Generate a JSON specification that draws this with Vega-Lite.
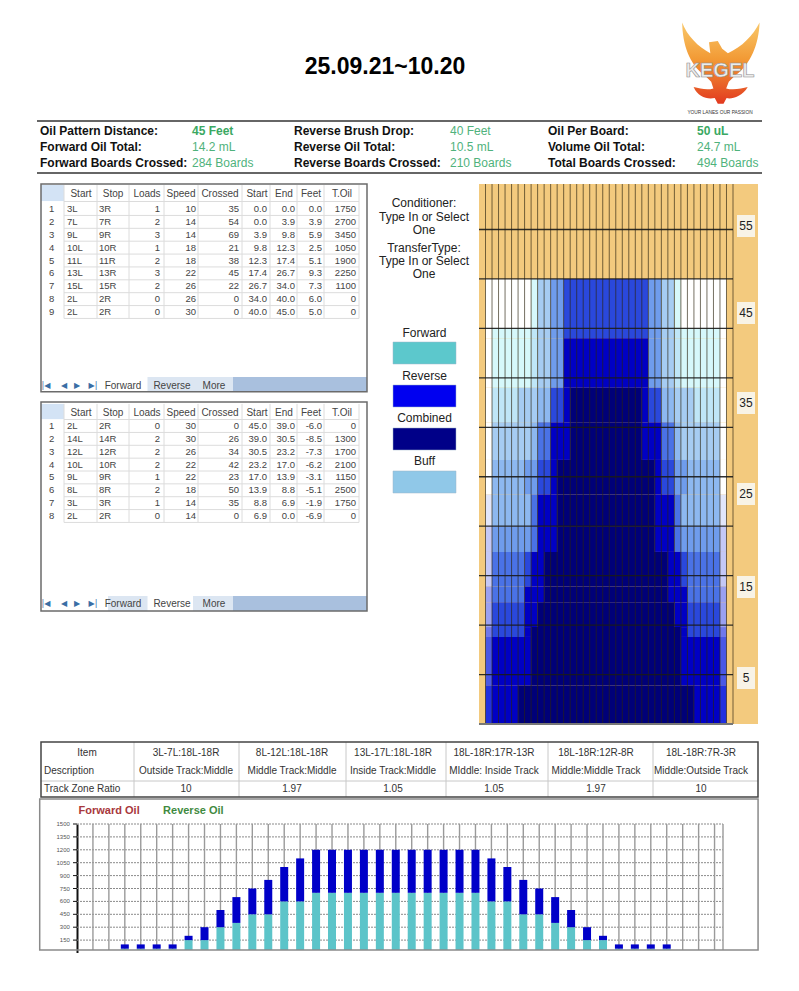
{
"$schema":"https://vega.github.io/schema/vega-lite/v6.json",
"background":"white",
"padding":{"left":36,"top":0,"right":0,"bottom":0},
"config":{"view":{"stroke":null},"font":"Liberation Sans"},
"datasets":{
"summary":[
{"row":1,"col":1,"text":"Oil Pattern Distance:","kind":"label"},{"row":1,"col":2,"text":"45 Feet","kind":"strong"},{"row":1,"col":3,"text":"Reverse Brush Drop:","kind":"label"},{"row":1,"col":4,"text":"40 Feet","kind":"value"},{"row":1,"col":5,"text":"Oil Per Board:","kind":"label"},{"row":1,"col":6,"text":"50 uL","kind":"strong"},
{"row":2,"col":1,"text":"Forward Oil Total:","kind":"label"},{"row":2,"col":2,"text":"14.2 mL","kind":"value"},{"row":2,"col":3,"text":"Reverse Oil Total:","kind":"label"},{"row":2,"col":4,"text":"10.5 mL","kind":"value"},{"row":2,"col":5,"text":"Volume Oil Total:","kind":"label"},{"row":2,"col":6,"text":"24.7 mL","kind":"value"},
{"row":3,"col":1,"text":"Forward Boards Crossed:","kind":"label"},{"row":3,"col":2,"text":"284 Boards","kind":"value"},{"row":3,"col":3,"text":"Reverse Boards Crossed:","kind":"label"},{"row":3,"col":4,"text":"210 Boards","kind":"value"},{"row":3,"col":5,"text":"Total Boards Crossed:","kind":"label"},{"row":3,"col":6,"text":"494 Boards","kind":"value"}],
"headers":[{"col":1,"text":"Start"},{"col":2,"text":"Stop"},{"col":3,"text":"Loads"},{"col":4,"text":"Speed"},{"col":5,"text":"Crossed"},{"col":6,"text":"Start"},{"col":7,"text":"End"},{"col":8,"text":"Feet"},{"col":9,"text":"T.Oil"}],
"colEdges":[{"edge":1},{"edge":2},{"edge":3},{"edge":4},{"edge":5},{"edge":6},{"edge":7},{"edge":8},{"edge":9},{"edge":10}],
"rowEdgesF":[{"edge":0.5},{"edge":1.5},{"edge":2.5},{"edge":3.5},{"edge":4.5},{"edge":5.5},{"edge":6.5},{"edge":7.5},{"edge":8.5},{"edge":9.5}],
"rowEdgesR":[{"edge":0.5},{"edge":1.5},{"edge":2.5},{"edge":3.5},{"edge":4.5},{"edge":5.5},{"edge":6.5},{"edge":7.5},{"edge":8.5}],
"tabs":[{"idx":0,"tab":"|◀"},{"idx":1,"tab":"◀"},{"idx":2,"tab":"▶"},{"idx":3,"tab":"▶|"}],
"tabNames":[{"idx":4,"tab":"Forward"},{"idx":5,"tab":"Reverse"},{"idx":6,"tab":"More"}],
"forward":[
{"row":1,"col":0,"text":"1"},{"row":1,"col":1,"text":"3L"},{"row":1,"col":2,"text":"3R"},{"row":1,"col":3,"text":"1"},{"row":1,"col":4,"text":"10"},{"row":1,"col":5,"text":"35"},{"row":1,"col":6,"text":"0.0"},{"row":1,"col":7,"text":"0.0"},{"row":1,"col":8,"text":"0.0"},{"row":1,"col":9,"text":"1750"},
{"row":2,"col":0,"text":"2"},{"row":2,"col":1,"text":"7L"},{"row":2,"col":2,"text":"7R"},{"row":2,"col":3,"text":"2"},{"row":2,"col":4,"text":"14"},{"row":2,"col":5,"text":"54"},{"row":2,"col":6,"text":"0.0"},{"row":2,"col":7,"text":"3.9"},{"row":2,"col":8,"text":"3.9"},{"row":2,"col":9,"text":"2700"},
{"row":3,"col":0,"text":"3"},{"row":3,"col":1,"text":"9L"},{"row":3,"col":2,"text":"9R"},{"row":3,"col":3,"text":"3"},{"row":3,"col":4,"text":"14"},{"row":3,"col":5,"text":"69"},{"row":3,"col":6,"text":"3.9"},{"row":3,"col":7,"text":"9.8"},{"row":3,"col":8,"text":"5.9"},{"row":3,"col":9,"text":"3450"},
{"row":4,"col":0,"text":"4"},{"row":4,"col":1,"text":"10L"},{"row":4,"col":2,"text":"10R"},{"row":4,"col":3,"text":"1"},{"row":4,"col":4,"text":"18"},{"row":4,"col":5,"text":"21"},{"row":4,"col":6,"text":"9.8"},{"row":4,"col":7,"text":"12.3"},{"row":4,"col":8,"text":"2.5"},{"row":4,"col":9,"text":"1050"},
{"row":5,"col":0,"text":"5"},{"row":5,"col":1,"text":"11L"},{"row":5,"col":2,"text":"11R"},{"row":5,"col":3,"text":"2"},{"row":5,"col":4,"text":"18"},{"row":5,"col":5,"text":"38"},{"row":5,"col":6,"text":"12.3"},{"row":5,"col":7,"text":"17.4"},{"row":5,"col":8,"text":"5.1"},{"row":5,"col":9,"text":"1900"},
{"row":6,"col":0,"text":"6"},{"row":6,"col":1,"text":"13L"},{"row":6,"col":2,"text":"13R"},{"row":6,"col":3,"text":"3"},{"row":6,"col":4,"text":"22"},{"row":6,"col":5,"text":"45"},{"row":6,"col":6,"text":"17.4"},{"row":6,"col":7,"text":"26.7"},{"row":6,"col":8,"text":"9.3"},{"row":6,"col":9,"text":"2250"},
{"row":7,"col":0,"text":"7"},{"row":7,"col":1,"text":"15L"},{"row":7,"col":2,"text":"15R"},{"row":7,"col":3,"text":"2"},{"row":7,"col":4,"text":"26"},{"row":7,"col":5,"text":"22"},{"row":7,"col":6,"text":"26.7"},{"row":7,"col":7,"text":"34.0"},{"row":7,"col":8,"text":"7.3"},{"row":7,"col":9,"text":"1100"},
{"row":8,"col":0,"text":"8"},{"row":8,"col":1,"text":"2L"},{"row":8,"col":2,"text":"2R"},{"row":8,"col":3,"text":"0"},{"row":8,"col":4,"text":"26"},{"row":8,"col":5,"text":"0"},{"row":8,"col":6,"text":"34.0"},{"row":8,"col":7,"text":"40.0"},{"row":8,"col":8,"text":"6.0"},{"row":8,"col":9,"text":"0"},
{"row":9,"col":0,"text":"9"},{"row":9,"col":1,"text":"2L"},{"row":9,"col":2,"text":"2R"},{"row":9,"col":3,"text":"0"},{"row":9,"col":4,"text":"30"},{"row":9,"col":5,"text":"0"},{"row":9,"col":6,"text":"40.0"},{"row":9,"col":7,"text":"45.0"},{"row":9,"col":8,"text":"5.0"},{"row":9,"col":9,"text":"0"}],
"reverse":[
{"row":1,"col":0,"text":"1"},{"row":1,"col":1,"text":"2L"},{"row":1,"col":2,"text":"2R"},{"row":1,"col":3,"text":"0"},{"row":1,"col":4,"text":"30"},{"row":1,"col":5,"text":"0"},{"row":1,"col":6,"text":"45.0"},{"row":1,"col":7,"text":"39.0"},{"row":1,"col":8,"text":"-6.0"},{"row":1,"col":9,"text":"0"},
{"row":2,"col":0,"text":"2"},{"row":2,"col":1,"text":"14L"},{"row":2,"col":2,"text":"14R"},{"row":2,"col":3,"text":"2"},{"row":2,"col":4,"text":"30"},{"row":2,"col":5,"text":"26"},{"row":2,"col":6,"text":"39.0"},{"row":2,"col":7,"text":"30.5"},{"row":2,"col":8,"text":"-8.5"},{"row":2,"col":9,"text":"1300"},
{"row":3,"col":0,"text":"3"},{"row":3,"col":1,"text":"12L"},{"row":3,"col":2,"text":"12R"},{"row":3,"col":3,"text":"2"},{"row":3,"col":4,"text":"26"},{"row":3,"col":5,"text":"34"},{"row":3,"col":6,"text":"30.5"},{"row":3,"col":7,"text":"23.2"},{"row":3,"col":8,"text":"-7.3"},{"row":3,"col":9,"text":"1700"},
{"row":4,"col":0,"text":"4"},{"row":4,"col":1,"text":"10L"},{"row":4,"col":2,"text":"10R"},{"row":4,"col":3,"text":"2"},{"row":4,"col":4,"text":"22"},{"row":4,"col":5,"text":"42"},{"row":4,"col":6,"text":"23.2"},{"row":4,"col":7,"text":"17.0"},{"row":4,"col":8,"text":"-6.2"},{"row":4,"col":9,"text":"2100"},
{"row":5,"col":0,"text":"5"},{"row":5,"col":1,"text":"9L"},{"row":5,"col":2,"text":"9R"},{"row":5,"col":3,"text":"1"},{"row":5,"col":4,"text":"22"},{"row":5,"col":5,"text":"23"},{"row":5,"col":6,"text":"17.0"},{"row":5,"col":7,"text":"13.9"},{"row":5,"col":8,"text":"-3.1"},{"row":5,"col":9,"text":"1150"},
{"row":6,"col":0,"text":"6"},{"row":6,"col":1,"text":"8L"},{"row":6,"col":2,"text":"8R"},{"row":6,"col":3,"text":"2"},{"row":6,"col":4,"text":"18"},{"row":6,"col":5,"text":"50"},{"row":6,"col":6,"text":"13.9"},{"row":6,"col":7,"text":"8.8"},{"row":6,"col":8,"text":"-5.1"},{"row":6,"col":9,"text":"2500"},
{"row":7,"col":0,"text":"7"},{"row":7,"col":1,"text":"3L"},{"row":7,"col":2,"text":"3R"},{"row":7,"col":3,"text":"1"},{"row":7,"col":4,"text":"14"},{"row":7,"col":5,"text":"35"},{"row":7,"col":6,"text":"8.8"},{"row":7,"col":7,"text":"6.9"},{"row":7,"col":8,"text":"-1.9"},{"row":7,"col":9,"text":"1750"},
{"row":8,"col":0,"text":"8"},{"row":8,"col":1,"text":"2L"},{"row":8,"col":2,"text":"2R"},{"row":8,"col":3,"text":"0"},{"row":8,"col":4,"text":"14"},{"row":8,"col":5,"text":"0"},{"row":8,"col":6,"text":"6.9"},{"row":8,"col":7,"text":"0.0"},{"row":8,"col":8,"text":"-6.9"},{"row":8,"col":9,"text":"0"}],
"notes":[{"line":1,"text":"Conditioner:"},{"line":2,"text":"Type In or Select"},{"line":3,"text":"One"},{"line":4,"text":"TransferType:"},{"line":5,"text":"Type In or Select"},{"line":6,"text":"One"}],
"swatches":[{"name":"Forward"},{"name":"Reverse"},{"name":"Combined"},{"name":"Buff"}],
"heat":[
{"from":1,"to":8,"top":45,"bottom":40,"shade":"w"},{"from":8,"to":9,"top":45,"bottom":40,"shade":"p"},{"from":9,"to":11,"top":45,"bottom":40,"shade":"a"},{"from":11,"to":13,"top":45,"bottom":40,"shade":"e"},{"from":13,"to":26,"top":45,"bottom":40,"shade":"m"},{"from":26,"to":28,"top":45,"bottom":40,"shade":"e"},{"from":28,"to":30,"top":45,"bottom":40,"shade":"a"},{"from":30,"to":31,"top":45,"bottom":40,"shade":"p"},{"from":31,"to":38,"top":45,"bottom":40,"shade":"w"},
{"from":1,"to":2,"top":40,"bottom":39,"shade":"w"},{"from":2,"to":8,"top":40,"bottom":39,"shade":"p"},{"from":8,"to":9,"top":40,"bottom":39,"shade":"c"},{"from":9,"to":11,"top":40,"bottom":39,"shade":"a"},{"from":11,"to":13,"top":40,"bottom":39,"shade":"e"},{"from":13,"to":26,"top":40,"bottom":39,"shade":"m"},{"from":26,"to":28,"top":40,"bottom":39,"shade":"e"},{"from":28,"to":30,"top":40,"bottom":39,"shade":"a"},{"from":30,"to":31,"top":40,"bottom":39,"shade":"c"},{"from":31,"to":37,"top":40,"bottom":39,"shade":"p"},{"from":37,"to":38,"top":40,"bottom":39,"shade":"w"},
{"from":1,"to":2,"top":39,"bottom":34,"shade":"w"},{"from":2,"to":8,"top":39,"bottom":34,"shade":"p"},{"from":8,"to":9,"top":39,"bottom":34,"shade":"c"},{"from":9,"to":11,"top":39,"bottom":34,"shade":"a"},{"from":11,"to":13,"top":39,"bottom":34,"shade":"e"},{"from":13,"to":26,"top":39,"bottom":34,"shade":"d"},{"from":26,"to":28,"top":39,"bottom":34,"shade":"e"},{"from":28,"to":30,"top":39,"bottom":34,"shade":"a"},{"from":30,"to":31,"top":39,"bottom":34,"shade":"c"},{"from":31,"to":37,"top":39,"bottom":34,"shade":"p"},{"from":37,"to":38,"top":39,"bottom":34,"shade":"w"},
{"from":1,"to":2,"top":34,"bottom":30.5,"shade":"w"},{"from":2,"to":6,"top":34,"bottom":30.5,"shade":"c"},{"from":6,"to":9,"top":34,"bottom":30.5,"shade":"a"},{"from":9,"to":11,"top":34,"bottom":30.5,"shade":"b"},{"from":11,"to":13,"top":34,"bottom":30.5,"shade":"m"},{"from":13,"to":14,"top":34,"bottom":30.5,"shade":"d"},{"from":14,"to":25,"top":34,"bottom":30.5,"shade":"n"},{"from":25,"to":26,"top":34,"bottom":30.5,"shade":"d"},{"from":26,"to":28,"top":34,"bottom":30.5,"shade":"m"},{"from":28,"to":30,"top":34,"bottom":30.5,"shade":"b"},{"from":30,"to":33,"top":34,"bottom":30.5,"shade":"a"},{"from":33,"to":37,"top":34,"bottom":30.5,"shade":"c"},{"from":37,"to":38,"top":34,"bottom":30.5,"shade":"w"},
{"from":1,"to":2,"top":30.5,"bottom":26.7,"shade":"w"},{"from":2,"to":8,"top":30.5,"bottom":26.7,"shade":"a"},{"from":8,"to":9,"top":30.5,"bottom":26.7,"shade":"b"},{"from":9,"to":11,"top":30.5,"bottom":26.7,"shade":"f"},{"from":11,"to":14,"top":30.5,"bottom":26.7,"shade":"d"},{"from":14,"to":25,"top":30.5,"bottom":26.7,"shade":"n"},{"from":25,"to":28,"top":30.5,"bottom":26.7,"shade":"d"},{"from":28,"to":30,"top":30.5,"bottom":26.7,"shade":"f"},{"from":30,"to":31,"top":30.5,"bottom":26.7,"shade":"b"},{"from":31,"to":37,"top":30.5,"bottom":26.7,"shade":"a"},{"from":37,"to":38,"top":30.5,"bottom":26.7,"shade":"w"},
{"from":1,"to":2,"top":26.7,"bottom":23.2,"shade":"w"},{"from":2,"to":7,"top":26.7,"bottom":23.2,"shade":"b"},{"from":7,"to":9,"top":26.7,"bottom":23.2,"shade":"e"},{"from":9,"to":11,"top":26.7,"bottom":23.2,"shade":"m"},{"from":11,"to":12,"top":26.7,"bottom":23.2,"shade":"d"},{"from":12,"to":27,"top":26.7,"bottom":23.2,"shade":"n"},{"from":27,"to":28,"top":26.7,"bottom":23.2,"shade":"d"},{"from":28,"to":30,"top":26.7,"bottom":23.2,"shade":"m"},{"from":30,"to":32,"top":26.7,"bottom":23.2,"shade":"e"},{"from":32,"to":37,"top":26.7,"bottom":23.2,"shade":"b"},{"from":37,"to":38,"top":26.7,"bottom":23.2,"shade":"w"},
{"from":1,"to":2,"top":23.2,"bottom":20,"shade":"x1"},{"from":2,"to":8,"top":23.2,"bottom":20,"shade":"b"},{"from":8,"to":9,"top":23.2,"bottom":20,"shade":"f"},{"from":9,"to":12,"top":23.2,"bottom":20,"shade":"d"},{"from":12,"to":27,"top":23.2,"bottom":20,"shade":"n"},{"from":27,"to":30,"top":23.2,"bottom":20,"shade":"d"},{"from":30,"to":31,"top":23.2,"bottom":20,"shade":"f"},{"from":31,"to":37,"top":23.2,"bottom":20,"shade":"b"},{"from":37,"to":38,"top":23.2,"bottom":20,"shade":"x1"},
{"from":1,"to":2,"top":20,"bottom":17.4,"shade":"x2"},{"from":2,"to":8,"top":20,"bottom":17.4,"shade":"e"},{"from":8,"to":9,"top":20,"bottom":17.4,"shade":"f"},{"from":9,"to":12,"top":20,"bottom":17.4,"shade":"d"},{"from":12,"to":27,"top":20,"bottom":17.4,"shade":"n"},{"from":27,"to":30,"top":20,"bottom":17.4,"shade":"d"},{"from":30,"to":31,"top":20,"bottom":17.4,"shade":"f"},{"from":31,"to":37,"top":20,"bottom":17.4,"shade":"e"},{"from":37,"to":38,"top":20,"bottom":17.4,"shade":"x2"},
{"from":1,"to":2,"top":17.4,"bottom":13.9,"shade":"x2"},{"from":2,"to":7,"top":17.4,"bottom":13.9,"shade":"f"},{"from":7,"to":8,"top":17.4,"bottom":13.9,"shade":"m"},{"from":8,"to":10,"top":17.4,"bottom":13.9,"shade":"d"},{"from":10,"to":29,"top":17.4,"bottom":13.9,"shade":"n"},{"from":29,"to":31,"top":17.4,"bottom":13.9,"shade":"d"},{"from":31,"to":32,"top":17.4,"bottom":13.9,"shade":"m"},{"from":32,"to":37,"top":17.4,"bottom":13.9,"shade":"f"},{"from":37,"to":38,"top":17.4,"bottom":13.9,"shade":"x2"},
{"from":1,"to":2,"top":13.9,"bottom":12.3,"shade":"x3"},{"from":2,"to":7,"top":13.9,"bottom":12.3,"shade":"f"},{"from":7,"to":10,"top":13.9,"bottom":12.3,"shade":"d"},{"from":10,"to":29,"top":13.9,"bottom":12.3,"shade":"n"},{"from":29,"to":32,"top":13.9,"bottom":12.3,"shade":"d"},{"from":32,"to":37,"top":13.9,"bottom":12.3,"shade":"f"},{"from":37,"to":38,"top":13.9,"bottom":12.3,"shade":"x3"},
{"from":1,"to":2,"top":12.3,"bottom":9.8,"shade":"x3"},{"from":2,"to":7,"top":12.3,"bottom":9.8,"shade":"m"},{"from":7,"to":9,"top":12.3,"bottom":9.8,"shade":"d"},{"from":9,"to":30,"top":12.3,"bottom":9.8,"shade":"n"},{"from":30,"to":32,"top":12.3,"bottom":9.8,"shade":"d"},{"from":32,"to":37,"top":12.3,"bottom":9.8,"shade":"m"},{"from":37,"to":38,"top":12.3,"bottom":9.8,"shade":"x3"},
{"from":1,"to":2,"top":9.8,"bottom":8.8,"shade":"x4"},{"from":2,"to":7,"top":9.8,"bottom":8.8,"shade":"m"},{"from":7,"to":8,"top":9.8,"bottom":8.8,"shade":"d"},{"from":8,"to":31,"top":9.8,"bottom":8.8,"shade":"n"},{"from":31,"to":32,"top":9.8,"bottom":8.8,"shade":"d"},{"from":32,"to":37,"top":9.8,"bottom":8.8,"shade":"m"},{"from":37,"to":38,"top":9.8,"bottom":8.8,"shade":"x4"},
{"from":1,"to":2,"top":8.8,"bottom":3.9,"shade":"x5"},{"from":2,"to":8,"top":8.8,"bottom":3.9,"shade":"d"},{"from":8,"to":31,"top":8.8,"bottom":3.9,"shade":"n"},{"from":31,"to":37,"top":8.8,"bottom":3.9,"shade":"d"},{"from":37,"to":38,"top":8.8,"bottom":3.9,"shade":"x5"},
{"from":1,"to":2,"top":3.9,"bottom":0,"shade":"x6"},{"from":2,"to":6,"top":3.9,"bottom":0,"shade":"d"},{"from":6,"to":33,"top":3.9,"bottom":0,"shade":"n"},{"from":33,"to":37,"top":3.9,"bottom":0,"shade":"d"},{"from":37,"to":38,"top":3.9,"bottom":0,"shade":"x6"}],
"boardLines":[{"board":1},{"board":2},{"board":3},{"board":4},{"board":5},{"board":6},{"board":7},{"board":8},{"board":9},{"board":10},{"board":11},{"board":12},{"board":13},{"board":14},{"board":15},{"board":16},{"board":17},{"board":18},{"board":19},{"board":20},{"board":21},{"board":22},{"board":23},{"board":24},{"board":25},{"board":26},{"board":27},{"board":28},{"board":29},{"board":30},{"board":31},{"board":32},{"board":33},{"board":34},{"board":35},{"board":36},{"board":37},{"board":38},{"board":39}],
"oilBoards":[{"board":1},{"board":2},{"board":3},{"board":4},{"board":5},{"board":6},{"board":7},{"board":8},{"board":9},{"board":10},{"board":11},{"board":12},{"board":13},{"board":14},{"board":15},{"board":16},{"board":17},{"board":18},{"board":19},{"board":20},{"board":21},{"board":22},{"board":23},{"board":24},{"board":25},{"board":26},{"board":27},{"board":28},{"board":29},{"board":30},{"board":31},{"board":32},{"board":33},{"board":34},{"board":35},{"board":36},{"board":37},{"board":38},{"board":39},{"board":40},{"board":40.53}],
"feetLines":[{"feet":5},{"feet":10},{"feet":15},{"feet":20},{"feet":25},{"feet":30},{"feet":35},{"feet":40},{"feet":45},{"feet":50}],
"feetLabels":[{"feet":55},{"feet":45},{"feet":35},{"feet":25},{"feet":15},{"feet":5}],
"track":[
{"row":1,"col":0,"text":"Item"},{"row":2,"col":-1,"text":"Description"},{"row":3,"col":-1,"text":"Track Zone Ratio"},
{"row":1,"col":1,"text":"3L-7L:18L-18R"},{"row":2,"col":1,"text":"Outside Track:Middle"},{"row":3,"col":1,"text":"10"},
{"row":1,"col":2,"text":"8L-12L:18L-18R"},{"row":2,"col":2,"text":"Middle Track:Middle"},{"row":3,"col":2,"text":"1.97"},
{"row":1,"col":3,"text":"13L-17L:18L-18R"},{"row":2,"col":3,"text":"Inside Track:Middle"},{"row":3,"col":3,"text":"1.05"},
{"row":1,"col":4,"text":"18L-18R:17R-13R"},{"row":2,"col":4,"text":"MIddle: Inside Track"},{"row":3,"col":4,"text":"1.05"},
{"row":1,"col":5,"text":"18L-18R:12R-8R"},{"row":2,"col":5,"text":"Middle:Middle Track"},{"row":3,"col":5,"text":"1.97"},
{"row":1,"col":6,"text":"18L-18R:7R-3R"},{"row":2,"col":6,"text":"Middle:Outside Track"},{"row":3,"col":6,"text":"10"}],
"trackEdges":[{"edge":0.5},{"edge":1.5},{"edge":2.5},{"edge":3.5},{"edge":4.5},{"edge":5.5}],
"oilLevels":[{"level":150},{"level":300},{"level":450},{"level":600},{"level":750},{"level":900},{"level":1050},{"level":1200},{"level":1350},{"level":1500}],
"oil":[
{"board":3,"Forward":50,"Reverse":50},{"board":4,"Forward":50,"Reverse":50},{"board":5,"Forward":50,"Reverse":50},{"board":6,"Forward":50,"Reverse":50},{"board":7,"Forward":150,"Reverse":50},{"board":8,"Forward":150,"Reverse":150},{"board":9,"Forward":300,"Reverse":200},{"board":10,"Forward":350,"Reverse":300},{"board":11,"Forward":450,"Reverse":300},{"board":12,"Forward":450,"Reverse":400},{"board":13,"Forward":600,"Reverse":400},{"board":14,"Forward":600,"Reverse":500},{"board":15,"Forward":700,"Reverse":500},{"board":16,"Forward":700,"Reverse":500},{"board":17,"Forward":700,"Reverse":500},{"board":18,"Forward":700,"Reverse":500},{"board":19,"Forward":700,"Reverse":500},{"board":20,"Forward":700,"Reverse":500},{"board":21,"Forward":700,"Reverse":500},{"board":22,"Forward":700,"Reverse":500},{"board":23,"Forward":700,"Reverse":500},{"board":24,"Forward":700,"Reverse":500},{"board":25,"Forward":700,"Reverse":500},{"board":26,"Forward":600,"Reverse":500},{"board":27,"Forward":600,"Reverse":400},{"board":28,"Forward":450,"Reverse":400},{"board":29,"Forward":450,"Reverse":300},{"board":30,"Forward":350,"Reverse":300},{"board":31,"Forward":300,"Reverse":200},{"board":32,"Forward":150,"Reverse":150},{"board":33,"Forward":150,"Reverse":50},{"board":34,"Forward":50,"Reverse":50},{"board":35,"Forward":50,"Reverse":50},{"board":36,"Forward":50,"Reverse":50},{"board":37,"Forward":50,"Reverse":50}]
},
"spacing":0,
"bounds":"flush",
"resolve":{"scale":{"color":"independent"}},
"vconcat":[
{"width":725,"height":184,"resolve":{"scale":{"x":"independent","y":"independent"}},
"layer":[
{"layer":[
{"data":{"values":[{"text":"25.09.21~10.20"}]},"mark":{"type":"text","fontSize":23,"fontWeight":"bold","color":"#000"},"encoding":{"x":{"datum":348,"type":"quantitative","scale":{"domain":[0,725],"range":[0,725]},"axis":null},"y":{"datum":67,"type":"quantitative","scale":{"domain":[184,0],"range":[184,0]},"axis":null},"text":{"field":"text"}}},
{"data":{"values":[{"piece":"logo"}]},"mark":{"type":"point","filled":true,"opacity":1,"size":7744,"shape":"M-.86 -.9C-.75 -.6 -.5 -.35 -.22 -.2L-.25 -.45L-.05 -.48L.05 -.3L.18 -.2C.5 -.35 .75 -.6 .9 -.9C.88 -.4 .7 .05 .35 .3L.2 .45L.14 .6C.3 .65 .5 .6 .63 .57C.5 .8 .25 .85 .15 .82L.08 .95L-.05 .95L-.12 .82C-.3 .85 -.5 .8 -.6 .57C-.45 .6 -.3 .65 -.15 .6L-.2 .45L-.35 .3C-.7 .05 -.85 -.4 -.86 -.9Z","fill":{"gradient":"linear","x1":0,"y1":0,"x2":0,"y2":1,"stops":[{"offset":0,"color":"#f9c86a"},{"offset":0.45,"color":"#f29a35"},{"offset":1,"color":"#e2391f"}]}},"encoding":{"x":{"datum":683,"type":"quantitative","scale":{"domain":[0,725],"range":[0,725]},"axis":null},"y":{"datum":62,"type":"quantitative","scale":{"domain":[184,0],"range":[184,0]},"axis":null}}},
{"data":{"values":[{"text":"KEGEL"}]},"mark":{"type":"text","fontSize":20,"fontWeight":"bold","fill":"#ececec","stroke":"#8f8f8f","strokeWidth":0.6},"encoding":{"x":{"datum":683,"type":"quantitative","scale":{"domain":[0,725],"range":[0,725]},"axis":null},"y":{"datum":71,"type":"quantitative","scale":{"domain":[184,0],"range":[184,0]},"axis":null},"text":{"field":"text"}}},
{"data":{"values":[{"text":"YOUR LANES   OUR PASSION"}]},"mark":{"type":"text","fontSize":4.8,"color":"#333"},"encoding":{"x":{"datum":683,"type":"quantitative","scale":{"domain":[0,725],"range":[0,725]},"axis":null},"y":{"datum":113,"type":"quantitative","scale":{"domain":[184,0],"range":[184,0]},"axis":null},"text":{"field":"text"}}},
{"data":{"values":[{"line":121},{"line":173}]},"mark":{"type":"rule","color":"#333","strokeWidth":1.5},"encoding":{"x":{"datum":0,"type":"quantitative","scale":{"domain":[0,725],"range":[0,725]},"axis":null},"x2":{"datum":725},"y":{"field":"line","type":"quantitative","scale":{"domain":[184,0],"range":[184,0]},"axis":null}}}
]},
{"layer":[
{"data":{"name":"summary"},"transform":[{"filter":"datum.kind=='label'"}],"mark":{"type":"text","align":"left","fontSize":12,"fontWeight":"bold","color":"#111"},"encoding":{"x":{"field":"col","type":"quantitative","scale":{"domain":[1,2,3,4,5,6],"range":[3,155,257,413,511,660]},"axis":null},"y":{"field":"row","type":"quantitative","scale":{"domain":[1,2,3],"range":[131,147,163]},"axis":null},"text":{"field":"text"}}},
{"data":{"name":"summary"},"transform":[{"filter":"datum.kind=='value'"}],"mark":{"type":"text","align":"left","fontSize":12,"color":"#4fb27c"},"encoding":{"x":{"field":"col","type":"quantitative","scale":{"domain":[1,2,3,4,5,6],"range":[3,155,257,413,511,660]},"axis":null},"y":{"field":"row","type":"quantitative","scale":{"domain":[1,2,3],"range":[131,147,163]},"axis":null},"text":{"field":"text"}}},
{"data":{"name":"summary"},"transform":[{"filter":"datum.kind=='strong'"}],"mark":{"type":"text","align":"left","fontSize":12,"fontWeight":"bold","color":"#3aa862"},"encoding":{"x":{"field":"col","type":"quantitative","scale":{"domain":[1,2,3,4,5,6],"range":[3,155,257,413,511,660]},"axis":null},"y":{"field":"row","type":"quantitative","scale":{"domain":[1,2,3],"range":[131,147,163]},"axis":null},"text":{"field":"text"}}}
]}
]},
{"width":725,"height":540,"resolve":{"scale":{"x":"independent","y":"independent","color":"independent"}},
"layer":[
{"layer":[
{"data":{"values":[{"cell":"corner"}]},"mark":{"type":"rect","fill":"#d3e3f5"},"encoding":{"x":{"datum":0,"type":"quantitative","scale":{"domain":[0,1,2,3,4,5,6,7,8,9,10,11],"range":[4,27,60,92,127,161,205,233,260,287,322,330]},"axis":null},"x2":{"datum":1},"y":{"datum":-0.6,"type":"quantitative","scale":{"domain":[0,1,9],"range":[10,25,128]},"axis":null},"y2":{"datum":0.47}}},
{"data":{"name":"colEdges"},"mark":{"type":"rule","color":"#dcdcdc"},"encoding":{"x":{"field":"edge","type":"quantitative","scale":{"domain":[0,1,2,3,4,5,6,7,8,9,10,11],"range":[4,27,60,92,127,161,205,233,260,287,322,330]},"axis":null},"y":{"datum":-0.6,"type":"quantitative","scale":{"domain":[0,1,9],"range":[10,25,128]},"axis":null},"y2":{"datum":9.5}}},
{"data":{"name":"rowEdgesF"},"mark":{"type":"rule","color":"#dcdcdc"},"encoding":{"y":{"field":"edge","type":"quantitative","scale":{"domain":[0,1,9],"range":[10,25,128]},"axis":null},"x":{"datum":1,"type":"quantitative","scale":{"domain":[0,1,2,3,4,5,6,7,8,9,10,11],"range":[4,27,60,92,127,161,205,233,260,287,322,330]},"axis":null},"x2":{"datum":10}}}
]},
{"layer":[
{"data":{"values":[{"part":"strip"}]},"mark":{"type":"rect","fill":"#a9c0de"},"encoding":{"x":{"datum":7,"type":"quantitative","scale":{"domain":[0,1,2,3,4,5,6,7,8],"range":[9,27,40,56,86,135,177,196,330]},"axis":null},"x2":{"datum":8},"y":{"datum":14.05,"type":"quantitative","scale":{"domain":[0,1,9],"range":[10,25,128]},"axis":null},"y2":{"datum":15.2}}},
{"data":{"values":[{"part":"reverse"}]},"mark":{"type":"rect","fill":"#dce6f2"},"encoding":{"x":{"datum":4.5,"type":"quantitative","scale":{"domain":[0,1,2,3,4,5,6,7,8],"range":[9,27,40,56,86,135,177,196,330]},"axis":null},"x2":{"datum":5.5},"y":{"datum":14.05,"type":"quantitative","scale":{"domain":[0,1,9],"range":[10,25,128]},"axis":null},"y2":{"datum":15.2}}},
{"data":{"values":[{"part":"more"}]},"mark":{"type":"rect","fill":"#dce6f2"},"encoding":{"x":{"datum":5.5,"type":"quantitative","scale":{"domain":[0,1,2,3,4,5,6,7,8],"range":[9,27,40,56,86,135,177,196,330]},"axis":null},"x2":{"datum":7},"y":{"datum":14.05,"type":"quantitative","scale":{"domain":[0,1,9],"range":[10,25,128]},"axis":null},"y2":{"datum":15.2}}},
{"data":{"name":"tabs"},"mark":{"type":"text","fontSize":8,"color":"#3a6ea5","font":"DejaVu Sans"},"encoding":{"x":{"field":"idx","type":"quantitative","scale":{"domain":[0,1,2,3,4,5,6,7,8],"range":[9,27,40,56,86,135,177,196,330]},"axis":null},"y":{"datum":14.75,"type":"quantitative","scale":{"domain":[0,1,9],"range":[10,25,128]},"axis":null},"text":{"field":"tab"}}},
{"data":{"name":"tabNames"},"mark":{"type":"text","fontSize":10,"color":"#444"},"encoding":{"x":{"field":"idx","type":"quantitative","scale":{"domain":[0,1,2,3,4,5,6,7,8],"range":[9,27,40,56,86,135,177,196,330]},"axis":null},"y":{"datum":14.75,"type":"quantitative","scale":{"domain":[0,1,9],"range":[10,25,128]},"axis":null},"text":{"field":"tab"}}}
]},
{"layer":[
{"data":{"name":"forward"},"transform":[{"filter":"datum.col<=2"}],"mark":{"type":"text","align":"left","fontSize":9.5,"color":"#444"},"encoding":{"x":{"field":"col","type":"quantitative","scale":{"domain":[0,1,2,3,4,5,6,7,8,9],"range":[12,30,62,123,159,202,230,258,285,319]},"axis":null},"y":{"field":"row","type":"quantitative","scale":{"domain":[0,1,9],"range":[10,25,128]},"axis":null},"text":{"field":"text"}}},
{"data":{"name":"forward"},"transform":[{"filter":"datum.col>=3"}],"mark":{"type":"text","align":"right","fontSize":9.5,"color":"#444"},"encoding":{"x":{"field":"col","type":"quantitative","scale":{"domain":[0,1,2,3,4,5,6,7,8,9],"range":[12,30,62,123,159,202,230,258,285,319]},"axis":null},"y":{"field":"row","type":"quantitative","scale":{"domain":[0,1,9],"range":[10,25,128]},"axis":null},"text":{"field":"text"}}}
]},
{"data":{"name":"headers"},"mark":{"type":"text","fontSize":10,"color":"#444"},"encoding":{"x":{"field":"col","type":"quantitative","scale":{"domain":[1,2,3,4,5,6,7,8,9],"range":[44,76,110,144,183,220,247,274,305]},"axis":null},"y":{"datum":0,"type":"quantitative","scale":{"domain":[0,1,9],"range":[10,25,128]},"axis":null},"text":{"field":"text"}}},
{"data":{"values":[{"part":"frame"}]},"mark":{"type":"rect","fillOpacity":0,"stroke":"#6b6b6b","strokeWidth":1.5},"encoding":{"x":{"datum":0,"type":"quantitative","scale":{"domain":[0,1],"range":[4,330]},"axis":null},"x2":{"datum":1},"y":{"datum":-0.667,"type":"quantitative","scale":{"domain":[0,1,9],"range":[10,25,128]},"axis":null},"y2":{"datum":15.2}}},

{"layer":[
{"data":{"values":[{"cell":"corner"}]},"mark":{"type":"rect","fill":"#d3e3f5"},"encoding":{"x":{"datum":0,"type":"quantitative","scale":{"domain":[0,1,2,3,4,5,6,7,8,9,10,11],"range":[4,27,60,92,127,161,205,233,260,287,322,330]},"axis":null},"x2":{"datum":1},"y":{"datum":-0.7,"type":"quantitative","scale":{"domain":[0,1,8],"range":[229,242,332]},"axis":null},"y2":{"datum":0.47}}},
{"data":{"name":"colEdges"},"mark":{"type":"rule","color":"#dcdcdc"},"encoding":{"x":{"field":"edge","type":"quantitative","scale":{"domain":[0,1,2,3,4,5,6,7,8,9,10,11],"range":[4,27,60,92,127,161,205,233,260,287,322,330]},"axis":null},"y":{"datum":-0.7,"type":"quantitative","scale":{"domain":[0,1,8],"range":[229,242,332]},"axis":null},"y2":{"datum":8.5}}},
{"data":{"name":"rowEdgesR"},"mark":{"type":"rule","color":"#dcdcdc"},"encoding":{"y":{"field":"edge","type":"quantitative","scale":{"domain":[0,1,8],"range":[229,242,332]},"axis":null},"x":{"datum":1,"type":"quantitative","scale":{"domain":[0,1,2,3,4,5,6,7,8,9,10,11],"range":[4,27,60,92,127,161,205,233,260,287,322,330]},"axis":null},"x2":{"datum":10}}}
]},
{"layer":[
{"data":{"values":[{"part":"strip"}]},"mark":{"type":"rect","fill":"#a9c0de"},"encoding":{"x":{"datum":7,"type":"quantitative","scale":{"domain":[0,1,2,3,4,5,6,7,8],"range":[9,27,40,56,86,135,177,196,330]},"axis":null},"x2":{"datum":8},"y":{"datum":14.22,"type":"quantitative","scale":{"domain":[0,1,8],"range":[229,242,332]},"axis":null},"y2":{"datum":15.39}}},
{"data":{"values":[{"part":"forward"}]},"mark":{"type":"rect","fill":"#dce6f2"},"encoding":{"x":{"datum":3.5,"type":"quantitative","scale":{"domain":[0,1,2,3,4,5,6,7,8],"range":[9,27,40,56,86,135,177,196,330]},"axis":null},"x2":{"datum":4.5},"y":{"datum":14.22,"type":"quantitative","scale":{"domain":[0,1,8],"range":[229,242,332]},"axis":null},"y2":{"datum":15.39}}},
{"data":{"values":[{"part":"more"}]},"mark":{"type":"rect","fill":"#dce6f2"},"encoding":{"x":{"datum":5.5,"type":"quantitative","scale":{"domain":[0,1,2,3,4,5,6,7,8],"range":[9,27,40,56,86,135,177,196,330]},"axis":null},"x2":{"datum":7},"y":{"datum":14.22,"type":"quantitative","scale":{"domain":[0,1,8],"range":[229,242,332]},"axis":null},"y2":{"datum":15.39}}},
{"data":{"name":"tabs"},"mark":{"type":"text","fontSize":8,"color":"#3a6ea5","font":"DejaVu Sans"},"encoding":{"x":{"field":"idx","type":"quantitative","scale":{"domain":[0,1,2,3,4,5,6,7,8],"range":[9,27,40,56,86,135,177,196,330]},"axis":null},"y":{"datum":14.84,"type":"quantitative","scale":{"domain":[0,1,8],"range":[229,242,332]},"axis":null},"text":{"field":"tab"}}},
{"data":{"name":"tabNames"},"mark":{"type":"text","fontSize":10,"color":"#444"},"encoding":{"x":{"field":"idx","type":"quantitative","scale":{"domain":[0,1,2,3,4,5,6,7,8],"range":[9,27,40,56,86,135,177,196,330]},"axis":null},"y":{"datum":14.84,"type":"quantitative","scale":{"domain":[0,1,8],"range":[229,242,332]},"axis":null},"text":{"field":"tab"}}}
]},
{"layer":[
{"data":{"name":"reverse"},"transform":[{"filter":"datum.col<=2"}],"mark":{"type":"text","align":"left","fontSize":9.5,"color":"#444"},"encoding":{"x":{"field":"col","type":"quantitative","scale":{"domain":[0,1,2,3,4,5,6,7,8,9],"range":[12,30,62,123,159,202,230,258,285,319]},"axis":null},"y":{"field":"row","type":"quantitative","scale":{"domain":[0,1,8],"range":[229,242,332]},"axis":null},"text":{"field":"text"}}},
{"data":{"name":"reverse"},"transform":[{"filter":"datum.col>=3"}],"mark":{"type":"text","align":"right","fontSize":9.5,"color":"#444"},"encoding":{"x":{"field":"col","type":"quantitative","scale":{"domain":[0,1,2,3,4,5,6,7,8,9],"range":[12,30,62,123,159,202,230,258,285,319]},"axis":null},"y":{"field":"row","type":"quantitative","scale":{"domain":[0,1,8],"range":[229,242,332]},"axis":null},"text":{"field":"text"}}}
]},
{"data":{"name":"headers"},"mark":{"type":"text","fontSize":10,"color":"#444"},"encoding":{"x":{"field":"col","type":"quantitative","scale":{"domain":[1,2,3,4,5,6,7,8,9],"range":[44,76,110,144,183,220,247,274,305]},"axis":null},"y":{"datum":0,"type":"quantitative","scale":{"domain":[0,1,8],"range":[229,242,332]},"axis":null},"text":{"field":"text"}}},
{"data":{"values":[{"part":"frame"}]},"mark":{"type":"rect","fillOpacity":0,"stroke":"#6b6b6b","strokeWidth":1.5},"encoding":{"x":{"datum":0,"type":"quantitative","scale":{"domain":[0,1],"range":[4,330]},"axis":null},"x2":{"datum":1},"y":{"datum":-0.846,"type":"quantitative","scale":{"domain":[0,1,8],"range":[229,242,332]},"axis":null},"y2":{"datum":15.39}}},

{"data":{"name":"notes"},"mark":{"type":"text","fontSize":12,"color":"#222"},"encoding":{"x":{"datum":57,"type":"quantitative","scale":{"domain":[0,112],"range":[330,442]},"axis":null},"y":{"field":"line","type":"quantitative","scale":{"domain":[1,2,3,4,5,6],"range":[19,33,46,64,77,90]},"axis":null},"text":{"field":"text"}}},
{"data":{"name":"swatches"},"layer":[
{"mark":{"type":"rect","stroke":"#9fb6c9","strokeWidth":0.5},"encoding":{"x":{"datum":0,"type":"quantitative","scale":{"domain":[0,1],"range":[356,419]},"axis":null},"x2":{"datum":1},"y":{"field":"name","type":"nominal","sort":null,"scale":{"type":"band","domain":["Forward","Reverse","Combined","Buff"],"range":[158,309],"paddingInner":0.488,"paddingOuter":0},"axis":null},"color":{"field":"name","type":"nominal","scale":{"domain":["Forward","Reverse","Combined","Buff"],"range":["#5cc8cc","#0000f0","#000088","#90c8e8"]},"legend":null}}},
{"mark":{"type":"text","fontSize":12,"color":"#222","dy":-20.5},"encoding":{"x":{"datum":0.5,"type":"quantitative","scale":{"domain":[0,1],"range":[356,419]},"axis":null},"y":{"field":"name","type":"nominal","sort":null,"scale":{"type":"band","domain":["Forward","Reverse","Combined","Buff"],"range":[158,309],"paddingInner":0.488,"paddingOuter":0},"axis":null},"text":{"field":"name"}}}
]},

{"layer":[
{"data":{"values":[{"part":"lane"}]},"mark":{"type":"rect","fill":"#f3ca7e"},"encoding":{"x":{"datum":0,"type":"quantitative","scale":{"domain":[0,39],"range":[442,696]},"axis":null},"x2":{"datum":42.84},"y":{"datum":0,"type":"quantitative","scale":{"domain":[0,54.6],"range":[540,0]},"axis":null},"y2":{"datum":54.6}}},
{"data":{"name":"heat"},"mark":{"type":"rect"},"encoding":{"x":{"field":"from","type":"quantitative","scale":{"domain":[0,39],"range":[442,696]},"axis":null},"x2":{"field":"to"},"y":{"field":"top","type":"quantitative","scale":{"domain":[0,54.6],"range":[540,0]},"axis":null},"y2":{"field":"bottom"},"color":{"field":"shade","type":"nominal","scale":{"domain":["w","p","c","a","b","e","f","m","d","n","x1","x2","x3","x4","x5","x6"],"range":["#ffffff","#d6f8fb","#bfe6f7","#a6ccf2","#8db8f0","#6f9cec","#4a72e6","#2a48dc","#0000c4","#000078","#e2e6fa","#c4c8f6","#9aa0f0","#7078ec","#4a58e6","#2030e0"]},"legend":null}}},
{"data":{"name":"boardLines"},"mark":{"type":"rule","color":"#2b2410","opacity":0.65,"strokeWidth":1},"encoding":{"x":{"field":"board","type":"quantitative","scale":{"domain":[0,39],"range":[442,696]},"axis":null},"y":{"datum":0,"type":"quantitative","scale":{"domain":[0,54.6],"range":[540,0]},"axis":null},"y2":{"datum":54.6}}},
{"data":{"name":"feetLines"},"mark":{"type":"rule","color":"#1a1a1a","opacity":0.9,"strokeWidth":1.3},"encoding":{"y":{"field":"feet","type":"quantitative","scale":{"domain":[0,54.6],"range":[540,0]},"axis":null},"x":{"datum":0,"type":"quantitative","scale":{"domain":[0,39],"range":[442,696]},"axis":null},"x2":{"datum":39}}},
{"data":{"values":[{"part":"foul"}]},"mark":{"type":"rule","color":"#777","strokeWidth":2},"encoding":{"y":{"datum":0,"type":"quantitative","scale":{"domain":[0,54.6],"range":[540,0]},"axis":null},"x":{"datum":0,"type":"quantitative","scale":{"domain":[0,39],"range":[442,696]},"axis":null},"x2":{"datum":39}}}
]},
{"layer":[
{"data":{"name":"feetLabels"},"mark":{"type":"point","filled":true,"opacity":1,"size":400,"fill":"#f8f3e6","shape":"M-.9 -1.1H.9V1.1H-.9Z"},"encoding":{"x":{"datum":41,"type":"quantitative","scale":{"domain":[0,39],"range":[442,696]},"axis":null},"y":{"field":"feet","type":"quantitative","scale":{"domain":[5,15,25,35,45,55],"range":[494,403,310,219,129,42]},"axis":null}}},
{"data":{"name":"feetLabels"},"mark":{"type":"text","fontSize":12,"color":"#222"},"encoding":{"x":{"datum":41,"type":"quantitative","scale":{"domain":[0,39],"range":[442,696]},"axis":null},"y":{"field":"feet","type":"quantitative","scale":{"domain":[5,15,25,35,45,55],"range":[494,403,310,219,129,42]},"axis":null},"text":{"field":"feet","type":"quantitative"}}}
]}
]},
{"width":725,"height":100,
"layer":[
{"data":{"name":"trackEdges"},"mark":{"type":"rule","color":"#c8c8c8"},"encoding":{"x":{"field":"edge","type":"quantitative","scale":{"domain":[-2,-1,0,0.5,1,1.5,2,2.5,3,3.5,4,4.5,5,5.5,6,7],"range":[4,7,50,97,149,202,255,309,356,409,457,511,559,616,664,721]},"axis":null},"y":{"datum":0,"type":"quantitative","scale":{"domain":[0,1,2,2.5,3,4],"range":[18,29,47,57,65,73]},"axis":null},"y2":{"datum":4}}},
{"data":{"values":[{"part":"divider"}]},"mark":{"type":"rule","color":"#c8c8c8"},"encoding":{"x":{"datum":-2,"type":"quantitative","scale":{"domain":[-2,-1,0,0.5,1,1.5,2,2.5,3,3.5,4,4.5,5,5.5,6,7],"range":[4,7,50,97,149,202,255,309,356,409,457,511,559,616,664,721]},"axis":null},"x2":{"datum":7},"y":{"datum":2.5,"type":"quantitative","scale":{"domain":[0,1,2,2.5,3,4],"range":[18,29,47,57,65,73]},"axis":null}}},
{"data":{"values":[{"part":"frame"}]},"mark":{"type":"rect","fillOpacity":0,"stroke":"#444","strokeWidth":1.5},"encoding":{"x":{"datum":-2,"type":"quantitative","scale":{"domain":[-2,-1,0,0.5,1,1.5,2,2.5,3,3.5,4,4.5,5,5.5,6,7],"range":[4,7,50,97,149,202,255,309,356,409,457,511,559,616,664,721]},"axis":null},"x2":{"datum":7},"y":{"datum":0,"type":"quantitative","scale":{"domain":[0,1,2,2.5,3,4],"range":[18,29,47,57,65,73]},"axis":null},"y2":{"datum":4}}},
{"data":{"name":"track"},"transform":[{"filter":"datum.col<0"}],"mark":{"type":"text","align":"left","fontSize":10,"color":"#333"},"encoding":{"x":{"field":"col","type":"quantitative","scale":{"domain":[-2,-1,0,0.5,1,1.5,2,2.5,3,3.5,4,4.5,5,5.5,6,7],"range":[4,7,50,97,149,202,255,309,356,409,457,511,559,616,664,721]},"axis":null},"y":{"field":"row","type":"quantitative","scale":{"domain":[0,1,2,2.5,3,4],"range":[18,29,47,57,65,73]},"axis":null},"text":{"field":"text"}}},
{"data":{"name":"track"},"transform":[{"filter":"datum.col>=0"}],"mark":{"type":"text","fontSize":10,"color":"#333"},"encoding":{"x":{"field":"col","type":"quantitative","scale":{"domain":[-2,-1,0,0.5,1,1.5,2,2.5,3,3.5,4,4.5,5,5.5,6,7],"range":[4,7,50,97,149,202,255,309,356,409,457,511,559,616,664,721]},"axis":null},"y":{"field":"row","type":"quantitative","scale":{"domain":[0,1,2,2.5,3,4],"range":[18,29,47,57,65,73]},"axis":null},"text":{"field":"text"}}}
]},
{"width":686,"height":126,
"layer":[
{"data":{"name":"oilLevels"},"mark":{"type":"rule","color":"#8a8a8a","strokeDash":[2,1],"strokeWidth":1},"encoding":{"y":{"field":"level","type":"quantitative","scale":{"domain":[0,1500],"range":[129,0]},"axis":{"offset":-40,"values":[150,1500],"grid":false,"title":null,"labels":false,"ticks":false,"domainColor":"#111","domainWidth":2}},"x":{"datum":0,"type":"quantitative","scale":{"domain":[0,40.53],"range":[40,686],"padding":0},"axis":null},"x2":{"datum":40.53}}},
{"data":{"name":"oilLevels"},"mark":{"type":"rule","color":"#111","strokeWidth":1},"encoding":{"y":{"field":"level","type":"quantitative","scale":{"domain":[0,1500],"range":[129,0]}},"x":{"datum":-0.25,"type":"quantitative","scale":{"domain":[0,40.53],"range":[40,686],"padding":0},"axis":null},"x2":{"datum":0}}},
{"data":{"name":"oilLevels"},"mark":{"type":"text","align":"right","fontSize":6,"color":"#555"},"encoding":{"y":{"field":"level","type":"quantitative","scale":{"domain":[0,1500],"range":[129,0]}},"x":{"datum":-0.45,"type":"quantitative","scale":{"domain":[0,40.53],"range":[40,686],"padding":0},"axis":null},"text":{"field":"level","type":"quantitative"}}},
{"data":{"name":"oilBoards"},"mark":{"type":"rule","color":"#9a9a9a","strokeWidth":1.4},"encoding":{"x":{"field":"board","type":"quantitative","scale":{"domain":[0,40.53],"range":[40,686],"padding":0},"axis":null},"y":{"datum":1500,"type":"quantitative","scale":{"domain":[0,1500],"range":[129,0]}},"y2":{"datum":35}}},
{"data":{"name":"oil"},"transform":[{"fold":["Forward","Reverse"],"as":["series","oil"]}],"mark":{"type":"bar","size":8,"clip":true},"encoding":{"x":{"field":"board","type":"quantitative","scale":{"domain":[0,40.53],"range":[40,686],"padding":0},"axis":null},"y":{"field":"oil","type":"quantitative","stack":"zero","scale":{"domain":[0,1500],"range":[129,0]}},"color":{"field":"series","type":"nominal","scale":{"domain":["Forward","Reverse"],"range":["#5cc4c9","#0000c8"]},"legend":null},"order":{"field":"series","sort":"ascending"}}},
{"data":{"values":[{"label":"Forward Oil"}]},"mark":{"type":"text","align":"left","fontSize":11,"fontWeight":"bold","color":"#a8383c"},"encoding":{"x":{"datum":0.1,"type":"quantitative","scale":{"domain":[0,40.53],"range":[40,686],"padding":0},"axis":null},"y":{"datum":1650,"type":"quantitative","scale":{"domain":[0,1500],"range":[129,0]}},"text":{"field":"label"}}},
{"data":{"values":[{"label":"Reverse Oil"}]},"mark":{"type":"text","align":"left","fontSize":11,"fontWeight":"bold","color":"#3f8a3f"},"encoding":{"x":{"datum":5.4,"type":"quantitative","scale":{"domain":[0,40.53],"range":[40,686],"padding":0},"axis":null},"y":{"datum":1650,"type":"quantitative","scale":{"domain":[0,1500],"range":[129,0]}},"text":{"field":"label"}}},
{"data":{"values":[{"part":"frame"}]},"mark":{"type":"rect","fillOpacity":0,"stroke":"#8a8a8a","strokeWidth":1.5},"encoding":{"x":{"datum":-2.34,"type":"quantitative","scale":{"domain":[0,40.53],"range":[40,686],"padding":0},"axis":null},"x2":{"datum":42.73},"y":{"datum":1790,"type":"quantitative","scale":{"domain":[0,1500],"range":[129,0]}},"y2":{"datum":35}}}
]}
]
}
